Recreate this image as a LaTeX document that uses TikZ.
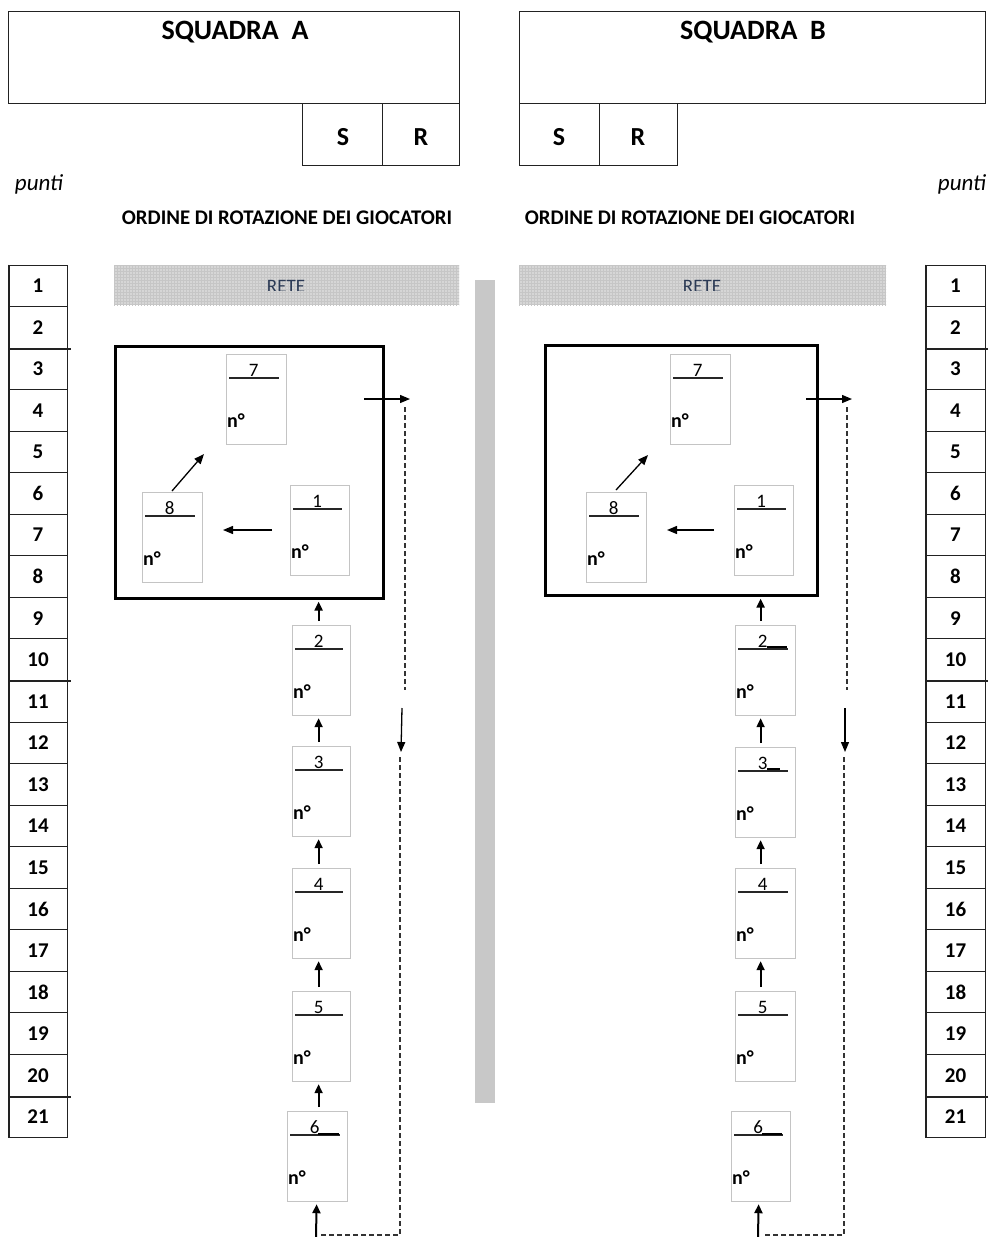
\documentclass[tikz,border=0pt]{standalone}
\usepackage{fontspec}
\setmainfont{Carlito}
\usetikzlibrary{calc,patterns,arrows.meta}
\definecolor{barc}{HTML}{C8C8C8}
\definecolor{pboxc}{HTML}{C4C4C4}
\definecolor{retec}{HTML}{2B3A55}
\definecolor{bandc}{HTML}{D6D6D6}
\definecolor{linec}{HTML}{222222}
\newcommand\plbox[5]{%
  \node[pbox, minimum width=#4, anchor=north west] (#1) at (#2,#3) {};
  \node[numtxt] (#1n) at ($(#1.north)+(-3,16)$) {#5};
  \draw[uline] ($(#1.north west)+(3,24)$) -- ($(#1.north east)+(-8,24)$);
  \node[notxt, anchor=west] (#1d) at ($(#1.north west)+(1,67)$) {n°};
}
\newcommand\uparr[3]{%
  \draw[varrow] ($(#1.north)+(#3,-4)$) -- ($(#1.north |- #2.south)+(#3,2)$);
}
\begin{document}
\begin{tikzpicture}[x=1pt,y=-1pt,
  frame/.style={draw=linec,line width=1.2pt,inner sep=0pt,anchor=north west},
  titletxt/.style={font=\bfseries\fontsize{28}{30}\selectfont},
  srtxt/.style={font=\bfseries\fontsize{26}{28}\selectfont},
  puntitxt/.style={font=\itshape\fontsize{23}{25}\selectfont},
  ordtxt/.style={font=\bfseries\fontsize{20.8}{22}\selectfont},
  retetxt/.style={font=\fontsize{19}{21}\selectfont, text=retec},
  band/.style={fill=bandc, postaction={pattern=grid, pattern color=gray!45}, minimum height=40, anchor=north west, inner sep=0pt},
  rot/.style={draw=black, line width=2.6pt, inner sep=0pt, anchor=north west},
  pbox/.style={draw=pboxc, line width=1.2pt, minimum height=90, inner sep=0pt},
  numtxt/.style={font=\fontsize{19}{20}\selectfont},
  notxt/.style={font=\bfseries\fontsize{20}{22}\selectfont, inner sep=0pt},
  uline/.style={draw=black!85, line width=1.2pt},
  varrow/.style={draw=black, line width=2pt, -{Triangle[length=9pt,width=8pt]}},
  tarrow/.style={draw=black, line width=1.3pt, -{Triangle[length=10pt,width=8pt]}},
  dline/.style={draw=black!80, line width=1.2pt, dash pattern=on 5pt off 3pt},
  scell/.style={draw=linec, line width=1pt, minimum width=58, minimum height=41.55, inner sep=0pt, font=\bfseries\fontsize{21}{23}\selectfont},
]
\useasboundingbox (0,0) rectangle (988,1237);

% ---------- headers ----------
\node[frame, minimum width=451, minimum height=92] (headA) at (8,11) {};
\node[titletxt] (titA) at (235,32) {SQUADRA\ \ A};
\node[frame, minimum width=80, minimum height=62] (sA) at (302,103) {};
\node[frame, minimum width=77, minimum height=62] (rA) at (382,103) {};
\node[srtxt] (sAt) at (343,137) {S};
\node[srtxt] (rAt) at (421,137) {R};

\node[frame, minimum width=466, minimum height=92] (headB) at (519,11) {};
\node[titletxt] (titB) at (753,32) {SQUADRA\ \ B};
\node[frame, minimum width=80, minimum height=62] (sB) at (519,103) {};
\node[frame, minimum width=78, minimum height=62] (rB) at (599,103) {};
\node[srtxt] (sBt) at (559,137) {S};
\node[srtxt] (rBt) at (638,137) {R};

\node[puntitxt] (puntiA) at (39,184) {punti};
\node[puntitxt] (puntiB) at (962,184) {punti};
\node[ordtxt] (ordA) at (287,218) {ORDINE DI ROTAZIONE DEI GIOCATORI};
\node[ordtxt] (ordB) at (690,218) {ORDINE DI ROTAZIONE DEI GIOCATORI};

% ---------- net ----------
\node[band, minimum width=345] (reteA) at (114,265) {};
\node[band, minimum width=367] (reteB) at (519,265) {};
\begin{scope}
  \clip (114,265) rectangle (886,290);
  \node[retetxt, anchor=base] (reteAt) at (286,292.5) {RETE};
  \node[retetxt, anchor=base] (reteBt) at (702,292.5) {RETE};
\end{scope}
\node[fill=barc, inner sep=0pt, minimum width=20, minimum height=823, anchor=north west] (bar) at (475,280) {};

% ---------- score columns ----------
\foreach \i in {1,...,21} {
  \node[scell] (sa\i) at (38,{265+(\i-0.5)*41.55}) {\i};
  \node[scell, minimum width=59] (sb\i) at (955.5,{265+(\i-0.5)*41.55}) {\i};
}
\draw[line width=1.6pt, linec] (sa1.north west) -- (sa21.south west);
\draw[line width=1.6pt, linec] (sb1.north west) -- (sb21.south west);
\foreach \i in {2,10,20} {
  \draw[line width=2pt, linec] (sa\i.south west) -- ([xshift=3pt]sa\i.south east);
  \draw[line width=2pt, linec] (sb\i.south west) -- ([xshift=2pt]sb\i.south east);
}

% ---------- team A ----------
\node[rot, minimum width=268, minimum height=252] (rotA) at (114,345) {};
\plbox{b7A}{226}{354}{60}{7}
\plbox{b8A}{142}{492}{60}{8}
\plbox{b1A}{290}{485}{59}{1}
\plbox{b2A}{292}{625}{58}{2}
\plbox{b3A}{292}{746}{58}{3}
\plbox{b4A}{292}{868}{58}{4}
\plbox{b5A}{292}{991}{58}{5}
\plbox{b6A}{287}{1111}{60}{6}
\draw[line width=2pt] (318,1133.5) -- (339,1133.5);

\coordinate (a18s) at (272,530); \coordinate (a18e) at (223,530);
\coordinate (a87s) at (172,491); \coordinate (a87e) at (204,454);
\coordinate (aouts) at (364,399); \coordinate (aoute) at (410,399);
\draw[tarrow] (a18s) -- (a18e);
\draw[tarrow] (a87s) -- (a87e);
\draw[tarrow] (aouts) -- (aoute);
\coordinate (ad1) at (405,407); \coordinate (ad2) at (405,690);
\coordinate (ad3) at (402,708); \coordinate (ad4) at (401,752);
\coordinate (ad5) at (400,757); \coordinate (ad6) at (400,1235);
\coordinate (ad7) at (321,1235); \coordinate (ad8) at (316,1237);
\draw[dline] (ad1) -- (ad2);
\draw[tarrow] (ad3) -- (ad4);
\draw[dline] (ad5) -- (ad6) -- (ad7);
\draw[varrow] (ad8) -- ($(b6A.south)+(-1,2)$);

\uparr{b2A}{rotA}{-3}
\uparr{b3A}{b2A}{-3}
\uparr{b4A}{b3A}{-3}
\uparr{b5A}{b4A}{-3}
\uparr{b6A}{b5A}{1}

% ---------- team B ----------
\node[rot, minimum width=272, minimum height=250] (rotB) at (544,344) {};
\plbox{b7B}{670}{354}{60}{7}
\plbox{b8B}{586}{492}{60}{8}
\plbox{b1B}{734}{485}{59}{1}
\plbox{b2B}{735}{625}{60}{2}
\plbox{b3B}{735}{747}{60}{3}
\plbox{b4B}{735}{868}{60}{4}
\plbox{b5B}{735}{991}{60}{5}
\plbox{b6B}{731}{1111}{59}{6}
\draw[line width=2pt] (767,646.5) -- (787,646.5);
\draw[line width=2pt] (767,768.5) -- (780,768.5);
\draw[line width=2pt] (762,1133.5) -- (782,1133.5);

\coordinate (b18s) at (714,530); \coordinate (b18e) at (667,530);
\coordinate (b87s) at (616,490); \coordinate (b87e) at (648,455);
\coordinate (bouts) at (806,399); \coordinate (boute) at (852,399);
\draw[tarrow] (b18s) -- (b18e);
\draw[tarrow] (b87s) -- (b87e);
\draw[tarrow] (bouts) -- (boute);
\coordinate (bd1) at (847,407); \coordinate (bd2) at (847,690);
\coordinate (bd3) at (845,708); \coordinate (bd4) at (845,752);
\coordinate (bd5) at (844,757); \coordinate (bd6) at (844,1235);
\coordinate (bd7) at (763,1235); \coordinate (bd8) at (758,1237);
\draw[dline] (bd1) -- (bd2);
\draw[tarrow] (bd3) -- (bd4);
\draw[dline] (bd5) -- (bd6) -- (bd7);
\draw[varrow] (bd8) -- ($(b6B.south)+(-2.5,2)$);

\uparr{b2B}{rotB}{-5}
\uparr{b3B}{b2B}{-5}
\uparr{b4B}{b3B}{-5}
\uparr{b5B}{b4B}{-5}
\end{tikzpicture}
\end{document}
